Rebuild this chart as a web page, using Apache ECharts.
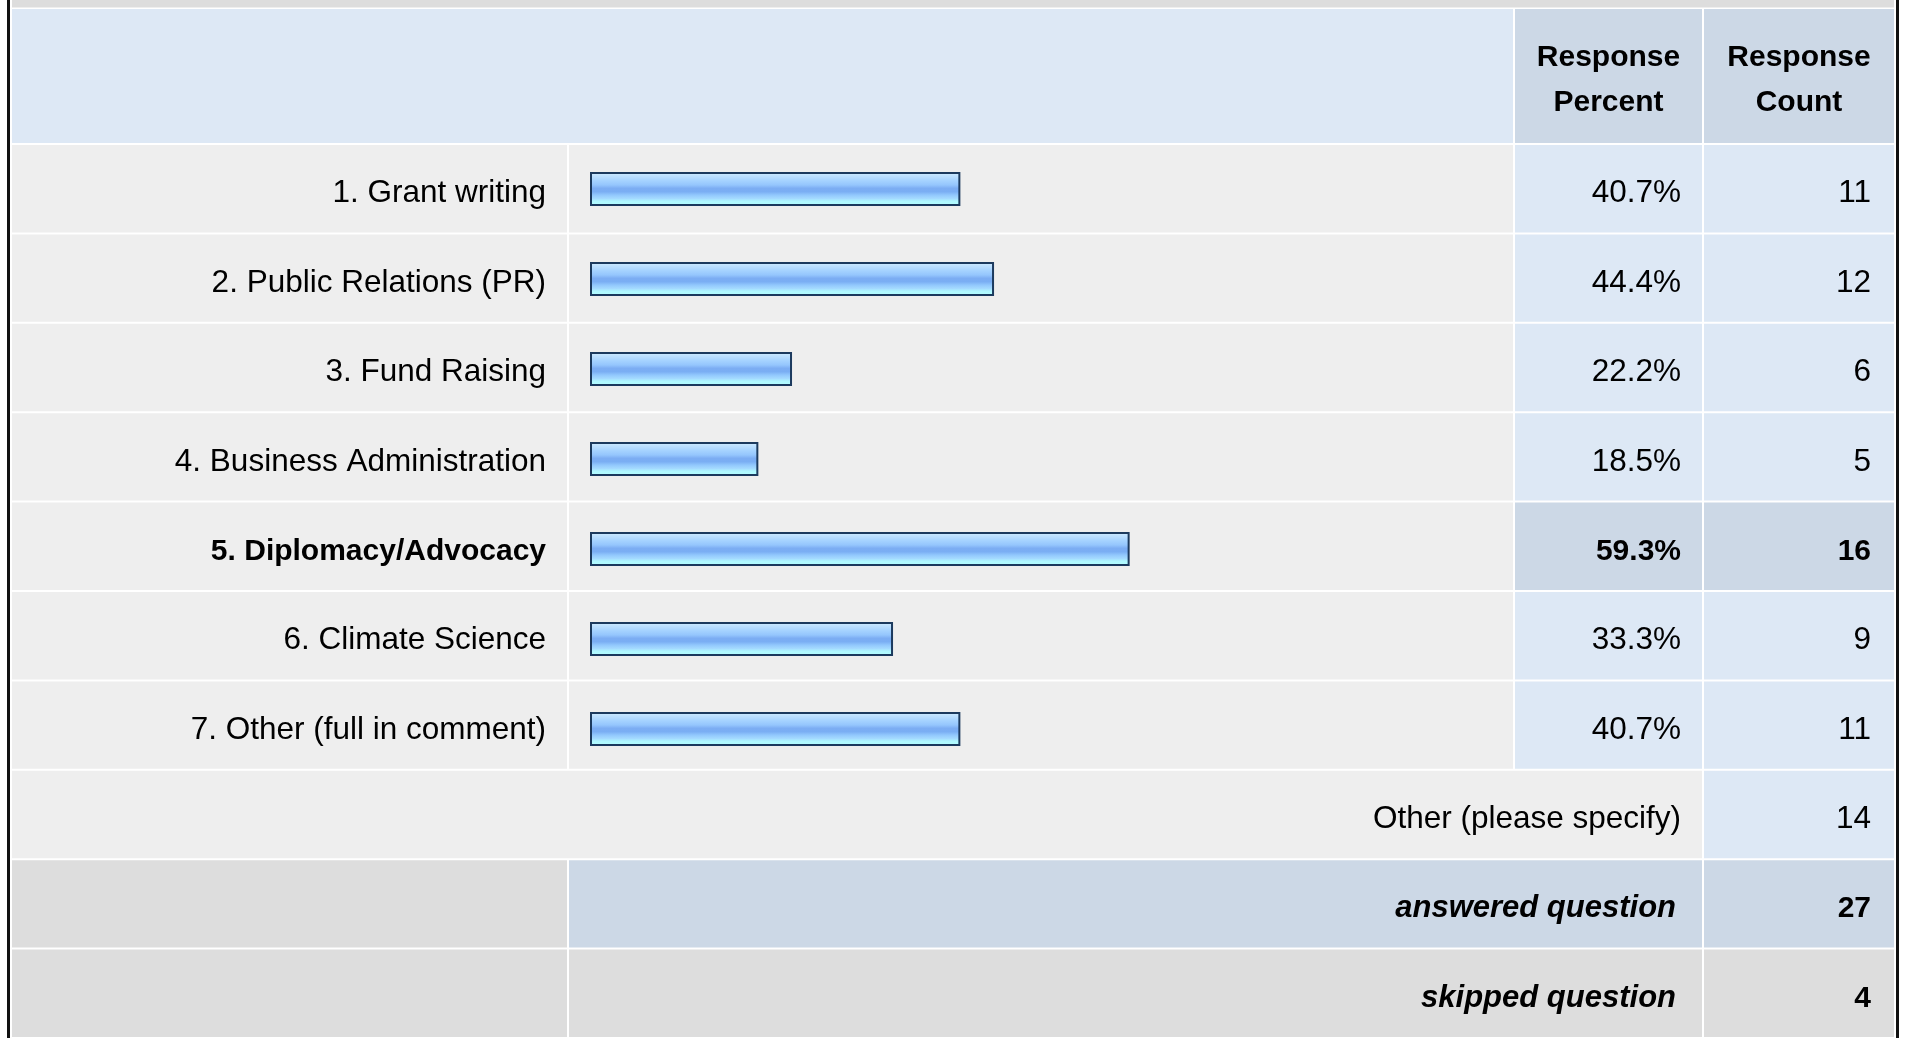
<!DOCTYPE html>
<html>
<head>
<meta charset="utf-8">
<title>Response summary</title>
<script src="https://cdn.jsdelivr.net/npm/echarts@6/dist/echarts.min.js"></script>
<style>
  html, body { margin: 0; padding: 0; background: #ffffff; }
  #chart { width: 1909px; height: 1038px; }
</style>
</head>
<body>
<div id="chart"></div>
<script>
// ---- data ----
const categories = [
  '1. Grant writing',
  '2. Public Relations (PR)',
  '3. Fund Raising',
  '4. Business Administration',
  '5. Diplomacy/Advocacy',
  '6. Climate Science',
  '7. Other (full in comment)'
];
const responsePercent = [40.7, 44.4, 22.2, 18.5, 59.3, 33.3, 40.7];
const responseCount = [11, 12, 6, 5, 16, 9, 11];
const headerLabels = ['Response\nPercent', 'Response\nCount'];
const otherLabel = 'Other (please specify)';
const otherCount = 14;
const summaryLabels = ['answered question', 'skipped question'];
const summaryCounts = [27, 4];

// ---- layout ----
const FONT = '"Liberation Sans", Arial, Helvetica, sans-serif';
const SIZE_REGULAR = 31.5;
const SIZE_BOLD = 30;
const SIZE_BOLD_ITALIC = 31;
const SIZE_HEADER = 30;
const colEdges = [11, 568, 1514, 1703, 1895];   // table column boundaries (px)
const tableLeft = colEdges[0], tableRight = colEdges[colEdges.length - 1];
const bodyTop = 144, rowHeight = 90;
const headerTop = 8, headerHeight = 136;
const barLeft = 590, barFullWidth = 910;          // 0..100 % span of the bar column

const colors = {
  header: '#dde8f5',
  headerStrong: '#ccd8e6',
  labelCell: '#eeeeee',
  valueCell: '#dde8f5',
  valueStrong: '#ccd8e6',
  summaryGray: '#dddddd',
  text: '#000000',
  barBorder: '#1c3a5e'
};

const maxCount = Math.max(...responseCount);
const highlightIndex = responseCount.indexOf(maxCount);

// body rows: question items, then the "other" line, then the two summary lines
const bodyRows = categories.map((c, i) => ({ kind: 'item', index: i }))
  .concat([{ kind: 'other' }, { kind: 'summary', index: 0 }, { kind: 'summary', index: 1 }]);
const bodyCategories = categories.concat([otherLabel], summaryLabels);

function textEl(text, x, y, align, opts) {
  opts = opts || {};
  const size = opts.size || (opts.bold ? (opts.italic ? SIZE_BOLD_ITALIC : SIZE_BOLD) : SIZE_REGULAR);
  return {
    type: 'text',
    style: {
      text: text,
      x: x,
      y: y,
      align: align,
      verticalAlign: 'middle',
      fontFamily: FONT,
      fontSize: size,
      fontWeight: opts.bold ? 'bold' : 'normal',
      fontStyle: opts.italic ? 'italic' : 'normal',
      lineHeight: opts.lineHeight,
      fill: colors.text
    }
  };
}

function cellRect(api, c0, c1, yTop, yBottom, fill) {
  const x0 = api.coord([colEdges[c0], 0])[0] + 1;
  const x1 = api.coord([colEdges[c1], 0])[0] - 1;
  return {
    type: 'rect',
    shape: { x: x0, y: yTop + 1, width: x1 - x0, height: yBottom - yTop - 2 },
    style: { fill: fill }
  };
}

function renderBodyRow(params, api) {
  const r = api.value(0);
  const row = bodyRows[r];
  const center = api.coord([tableLeft, r])[1];
  const band = api.size([0, 1])[1];
  const top = center - band / 2, bottom = center + band / 2;
  const ty = center + 5;
  const xLabelRight = api.coord([colEdges[1], 0])[0] - 22;
  const xPctRight = api.coord([colEdges[3], 0])[0] - 22;
  const xCountRight = api.coord([colEdges[4], 0])[0] - 24;
  const children = [];

  if (row.kind === 'item') {
    const strong = row.index === highlightIndex;
    children.push(cellRect(api, 0, 1, top, bottom, colors.labelCell));
    children.push(cellRect(api, 1, 2, top, bottom, colors.labelCell));
    children.push(cellRect(api, 2, 3, top, bottom, strong ? colors.valueStrong : colors.valueCell));
    children.push(cellRect(api, 3, 4, top, bottom, strong ? colors.valueStrong : colors.valueCell));
    children.push(textEl(categories[row.index], xLabelRight, ty, 'right', { bold: strong }));
    children.push(textEl(responsePercent[row.index].toFixed(1) + '%', xPctRight, ty, 'right', { bold: strong }));
    children.push(textEl(String(responseCount[row.index]), xCountRight, ty, 'right', { bold: strong }));
  } else if (row.kind === 'other') {
    children.push(cellRect(api, 0, 3, top, bottom, colors.labelCell));
    children.push(cellRect(api, 3, 4, top, bottom, colors.valueCell));
    children.push(textEl(otherLabel, xPctRight, ty, 'right'));
    children.push(textEl(String(otherCount), xCountRight, ty, 'right'));
  } else {
    const answered = row.index === 0;
    const fill = answered ? colors.valueStrong : colors.summaryGray;
    children.push(cellRect(api, 0, 1, top, bottom, colors.summaryGray));
    children.push(cellRect(api, 1, 3, top, bottom, fill));
    children.push(cellRect(api, 3, 4, top, bottom, fill));
    children.push(textEl(summaryLabels[row.index], xPctRight - 5, ty, 'right', { bold: true, italic: true }));
    children.push(textEl(String(summaryCounts[row.index]), xCountRight, ty, 'right', { bold: true, size: SIZE_BOLD }));
  }
  return { type: 'group', children: children };
}

function renderHeader(params, api) {
  const center = api.coord([tableLeft, 0])[1];
  const band = api.size([0, 1])[1];
  const top = center - band / 2, bottom = center + band / 2;
  const children = [
    cellRect(api, 0, 2, top, bottom, colors.header),
    cellRect(api, 2, 3, top, bottom, colors.headerStrong),
    cellRect(api, 3, 4, top, bottom, colors.headerStrong)
  ];
  [2, 3].forEach((c, k) => {
    const xm = (api.coord([colEdges[c], 0])[0] + api.coord([colEdges[c + 1], 0])[0]) / 2;
    children.push(textEl(headerLabels[k], xm, center + 4.5, 'center', { bold: true, size: SIZE_HEADER, lineHeight: 45 }));
  });
  return { type: 'group', children: children };
}

const barFill = {
  type: 'linear', x: 0, y: 0, x2: 0, y2: 1,
  colorStops: [
    { offset: 0.00, color: '#d4eeff' },
    { offset: 0.12, color: '#bde0ff' },
    { offset: 0.25, color: '#a6d3ff' },
    { offset: 0.38, color: '#95c6fd' },
    { offset: 0.48, color: '#7cadf3' },
    { offset: 0.58, color: '#7aaef3' },
    { offset: 0.68, color: '#92c8fd' },
    { offset: 0.78, color: '#a4daff' },
    { offset: 0.86, color: '#b0f8ff' },
    { offset: 1.00, color: '#b4ffff' }
  ]
};

const hiddenValueAxis = (grid, min, max) => ({
  type: 'value', gridIndex: grid, min: min, max: max, show: false,
  splitLine: { show: false }
});
const hiddenCategoryAxis = (grid, data) => ({
  type: 'category', gridIndex: grid, data: data, inverse: true, show: false,
  axisTick: { show: false }, axisLine: { show: false }
});

const chart = echarts.init(document.getElementById('chart'), null, { renderer: 'canvas' });
chart.setOption({
  backgroundColor: '#ffffff',
  animation: false,
  grid: [
    { left: tableLeft, top: headerTop, width: tableRight - tableLeft, height: headerHeight },
    { left: tableLeft, top: bodyTop, width: tableRight - tableLeft, height: rowHeight * bodyRows.length },
    { left: barLeft, top: bodyTop, width: barFullWidth, height: rowHeight * categories.length }
  ],
  xAxis: [
    hiddenValueAxis(0, tableLeft, tableRight),
    hiddenValueAxis(1, tableLeft, tableRight),
    hiddenValueAxis(2, 0, 100)
  ],
  yAxis: [
    hiddenCategoryAxis(0, ['header']),
    hiddenCategoryAxis(1, bodyCategories),
    hiddenCategoryAxis(2, categories)
  ],
  graphic: [
    // band of the row above the header, and the table's outer frame
    { type: 'rect', z: 0, shape: { x: 12, y: 0, width: 1882, height: 7.5 }, style: { fill: colors.summaryGray } },
    { type: 'rect', z: 10, shape: { x: 7, y: 0, width: 3, height: 1038 }, style: { fill: '#111111' } },
    { type: 'rect', z: 10, shape: { x: 1896, y: 0, width: 3, height: 1038 }, style: { fill: '#111111' } }
  ],
  series: [
    {
      type: 'custom', name: 'header', xAxisIndex: 0, yAxisIndex: 0, z: 1,
      renderItem: renderHeader, data: [[0]], clip: false, silent: true
    },
    {
      type: 'custom', name: 'rows', xAxisIndex: 1, yAxisIndex: 1, z: 1,
      renderItem: renderBodyRow, data: bodyRows.map((r, i) => [i]), clip: false, silent: true
    },
    {
      type: 'bar', name: 'Response Percent', xAxisIndex: 2, yAxisIndex: 2, z: 3,
      data: responsePercent,
      barWidth: 34,
      itemStyle: { color: barFill, borderColor: colors.barBorder, borderWidth: 2 },
      silent: true
    }
  ]
});
</script>
</body>
</html>
